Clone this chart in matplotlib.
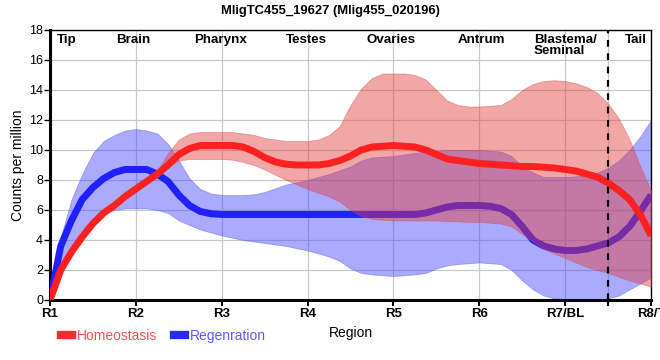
import matplotlib
matplotlib.use("Agg")
import matplotlib.pyplot as plt
from matplotlib.lines import Line2D

plt.rcParams["font.family"] = ["Liberation Sans", "DejaVu Sans"]

# sample positions along the body (R1 = 1 ... R8/T = 8), every 1/8 region
pos = [1.0, 1.125, 1.25, 1.375, 1.5, 1.625, 1.75, 1.875,
       2.0, 2.125, 2.25, 2.375, 2.5, 2.625, 2.75, 2.875,
       3.0, 3.125, 3.25, 3.375, 3.5, 3.625, 3.75, 3.875,
       4.0, 4.125, 4.25, 4.375, 4.5, 4.625, 4.75, 4.875,
       5.0, 5.125, 5.25, 5.375, 5.5, 5.625, 5.75, 5.875,
       6.0, 6.125, 6.25, 6.375, 6.5, 6.625, 6.75, 6.875,
       7.0, 7.125, 7.25, 7.375, 7.5, 7.625, 7.75, 7.875, 8.0]

homeo_mean = [0, 2.0, 3.2, 4.2, 5.1, 5.8, 6.3, 6.9,
              7.4, 7.9, 8.4, 9.0, 9.7, 10.1, 10.3, 10.3,
              10.3, 10.3, 10.2, 9.9, 9.5, 9.2, 9.05, 9.0,
              9.0, 9.0, 9.1, 9.3, 9.6, 10.0, 10.2, 10.25,
              10.3, 10.25, 10.2, 10.0, 9.7, 9.4, 9.3, 9.2,
              9.1, 9.05, 9.0, 8.95, 8.9, 8.9, 8.85, 8.8,
              8.7, 8.6, 8.4, 8.2, 7.8, 7.3, 6.7, 5.7, 4.3]
homeo_hi = [0, 2.1, 3.3, 4.3, 5.2, 5.9, 6.4, 7.0,
            7.5, 8.0, 8.6, 9.8, 10.7, 11.1, 11.2, 11.2,
            11.2, 11.2, 11.1, 11.0, 10.8, 10.7, 10.6, 10.6,
            10.6, 10.7, 11.0, 11.6, 13.0, 14.1, 14.8, 15.1,
            15.1, 15.1, 15.0, 14.7, 14.0, 13.3, 13.0, 12.9,
            12.9, 12.95, 13.0, 13.4, 14.0, 14.4, 14.6, 14.65,
            14.6, 14.45, 14.2, 13.8, 13.1, 12.1, 10.7, 8.9, 7.3]
homeo_lo = [0, 1.9, 3.1, 4.1, 5.0, 5.7, 6.2, 6.8,
            7.3, 7.8, 8.2, 8.9, 9.3, 9.4, 9.4, 9.4,
            9.4, 9.35, 9.2, 9.0, 8.7, 8.35, 8.0, 7.7,
            7.4, 7.15, 6.9, 6.55, 6.0, 5.6, 5.4, 5.35,
            5.3, 5.3, 5.3, 5.3, 5.3, 5.25, 5.25, 5.2,
            5.2, 5.15, 5.1, 4.9, 4.4, 3.9, 3.4, 3.1,
            2.8, 2.5, 2.2, 2.0, 1.8, 1.55, 1.3, 1.1, 0.9]

regen_mean = [0, 3.6, 5.3, 6.7, 7.5, 8.1, 8.5, 8.7,
              8.7, 8.7, 8.4, 7.9, 7.0, 6.3, 5.9, 5.75,
              5.7, 5.7, 5.7, 5.7, 5.7, 5.7, 5.7, 5.7,
              5.7, 5.7, 5.7, 5.7, 5.7, 5.7, 5.7, 5.7,
              5.7, 5.7, 5.7, 5.8, 6.0, 6.2, 6.3, 6.3,
              6.3, 6.25, 6.1, 5.7, 4.9, 4.0, 3.6, 3.4,
              3.3, 3.3, 3.4, 3.6, 3.8, 4.2, 4.9, 5.9, 7.0]
regen_hi = [0, 4.2, 6.7, 8.4, 9.8, 10.6, 11.0, 11.3,
            11.4, 11.3, 11.1, 10.4, 9.3, 8.1, 7.4, 7.1,
            7.0, 7.0, 7.0, 7.05, 7.2, 7.45, 7.7, 7.85,
            8.0, 8.2, 8.4, 8.65, 8.9, 9.3, 9.5, 9.55,
            9.6, 9.7, 9.8, 9.9, 9.95, 10.0, 10.0, 10.0,
            10.0, 9.95, 9.9, 9.6, 8.9, 8.5, 8.2, 8.2,
            8.2, 8.25, 8.3, 8.5, 8.8, 9.3, 10.0, 10.9, 12.0]
regen_lo = [0, 1.8, 3.6, 4.7, 5.3, 5.8, 6.0, 6.1,
            6.1, 6.1, 6.0, 5.8, 5.3, 5.0, 4.7, 4.5,
            4.3, 4.15, 4.0, 3.9, 3.8, 3.7, 3.6, 3.45,
            3.3, 3.1, 2.9, 2.6, 2.1, 1.8, 1.7, 1.65,
            1.6, 1.65, 1.7, 1.8, 2.1, 2.3, 2.4, 2.45,
            2.5, 2.45, 2.4, 2.0, 1.3, 0.7, 0.3, 0.1,
            0.05, 0.0, 0.0, 0.05, 0.1, 0.3, 0.7, 1.1, 1.5]

tick_pos = [1, 2, 3, 4, 5, 6, 7, 8]
tick_labels = ["R1", "R2", "R3", "R4", "R5", "R6", "R7/BL", "R8/T"]
regions = ["Tip", "Brain", "Pharynx", "Testes", "Ovaries", "Antrum", "Blastema/\nSeminal", "Tail"]
region_pos = [1.2, 1.97, 2.99, 3.98, 4.97, 6.02, 7.0, 7.82]
tail_start = 7.5

fig = plt.figure(figsize=(6.6, 3.6), dpi=100)
ax = fig.add_axes([0.0758, 0.1667, 0.9106, 0.75])

ax.fill_between(pos, regen_lo, regen_hi, color="#4444ff", alpha=0.45, lw=0.6,
                edgecolor="#5555ee", zorder=2)
ax.plot(pos, regen_mean, color="#2020ff", lw=5, solid_capstyle="butt", zorder=3)
ax.fill_between(pos, homeo_lo, homeo_hi, color="#e33b3b", alpha=0.45, lw=0.6,
                edgecolor="#d05050", zorder=4)
ax.plot(pos, homeo_mean, color="#ff2020", lw=5, solid_capstyle="butt", zorder=5)

ax.axvline(tail_start, color="black", lw=1.6, ls=(0, (3, 3)), zorder=6)

ax.set_xlim(1, 8)
ax.set_ylim(0, 18)
ax.set_xticks(tick_pos + [tail_start])
ax.set_xticklabels(tick_labels + [""], fontweight="bold", fontsize=9.5)
ax.set_yticks(range(0, 19, 2))
ax.tick_params(axis="y", labelsize=9, length=4, width=1, pad=1)
ax.tick_params(axis="x", length=4, width=1.5, pad=2)
ax.grid(True, color="#c8c8c8", lw=0.9, zorder=0)
ax.set_axisbelow(True)

for s in ["left", "bottom"]:
    ax.spines[s].set_linewidth(2.2)
for s in ["top", "right"]:
    ax.spines[s].set_linewidth(1.0)

for name, x in zip(regions, region_pos):
    ax.text(x, 17.75, name, ha="center", va="top", fontsize=9.6,
            fontweight="bold", multialignment="left", linespacing=0.95, zorder=7)

ax.set_ylabel("Counts per million", fontsize=10, labelpad=3)
ax.set_xlabel("Region", fontsize=10)
ax.xaxis.set_label_coords(0.5, -0.095)

fig.suptitle("MligTC455_19627 (Mlig455_020196)", fontsize=9.4, fontweight="bold",
             y=0.985, x=0.5)

handles = [Line2D([], [], color="#ff2a2a", lw=6),
           Line2D([], [], color="#2a2aff", lw=6)]
leg = fig.legend(handles, ["Homeostasis", "Regenration"], loc="lower left",
                 bbox_to_anchor=(0.074, 0.012), ncol=2, frameon=False, fontsize=10,
                 handlelength=0.8, handletextpad=0.35, columnspacing=1.2)
leg.get_texts()[0].set_color("#ff5050")
leg.get_texts()[1].set_color("#5a5aff")

fig.savefig("out.png", dpi=100)
